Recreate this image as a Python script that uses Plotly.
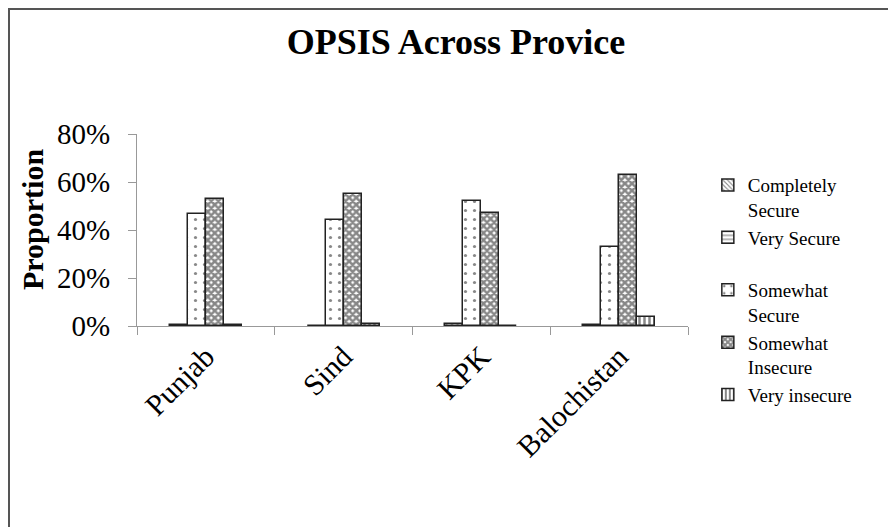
import plotly.graph_objects as go

provinces = ["Punjab", "Sind", "KPK", "Balochistan"]
completely_secure = [0.3, 0.0, 0.8, 0.3]
very_secure = [None, None, None, None]
somewhat_secure = [46.5, 44.2, 52.0, 32.9]
somewhat_insecure = [52.9, 55.0, 47.0, 63.0]
very_insecure = [0.3, 0.8, 0.0, 3.8]
y_tick_values = [0, 20, 40, 60, 80]
y_tick_labels = ["0%", "20%", "40%", "60%", "80%"]

FONT = "Liberation Serif"
W = 0.131

fig = go.Figure()
series = [
    ("Completely<br>Secure", completely_secure, "\\", 4, 0.35, -2 * W),
    ("Very Secure<br> ", very_secure, "-", 5, 0.3, -2 * W),
    ("Somewhat<br>Secure", somewhat_secure, ".", 9, 0.1, -W),
    ("Somewhat<br>Insecure", somewhat_insecure, "x", 5, 0.75, 0.0),
    ("Very insecure", very_insecure, "|", 5, 0.5, W),
]
for name, vals, shape, size, sol, off in series:
    fig.add_trace(go.Bar(
        x=provinces, y=vals, name=name,
        width=W, offset=off,
        marker=dict(color="white",
                    line=dict(color="#222222", width=1.5),
                    pattern=dict(shape=shape, fgcolor="#111111", bgcolor="white",
                                 size=size, solidity=sol, fillmode="overlay")),
    ))

L, T, PW, PH = 129, 126, 551, 192
fig.update_layout(
    width=896, height=527,
    paper_bgcolor="white", plot_bgcolor="white",
    margin=dict(l=L, r=896 - L - PW, t=T, b=527 - T - PH, autoexpand=False),
    font=dict(family=FONT, color="black"),
    title=dict(text="<b>OPSIS Across Provice</b>", x=0.5, xanchor="center",
               y=0.937, yanchor="middle", font=dict(size=36, family=FONT)),
    showlegend=True,
    legend=dict(x=1.036, xanchor="left", yref="container", y=0.70, yanchor="top",
                font=dict(size=19, family=FONT), valign="top", maxheight=0.95,
                traceorder="normal", bgcolor="rgba(0,0,0,0)"),
    bargap=0.0,
    shapes=[dict(type="rect", xref="paper", yref="paper",
                 x0=(1 - L) / PW, x1=2.0, y0=-2.0, y1=(T + PH - 1) / PH,
                 line=dict(color="#555555", width=2), fillcolor="rgba(0,0,0,0)")],
    annotations=[dict(text="<b>Proportion</b>", textangle=-90, xref="paper", yref="paper",
                      x=(24 - L) / PW, y=(T + PH - 212) / PH, xanchor="center", yanchor="middle",
                      showarrow=False, font=dict(size=30, family=FONT, color="black"))],
)
fig.update_yaxes(range=[0, 80], tickvals=y_tick_values, ticktext=y_tick_labels,
                 showgrid=False, showline=True, linecolor="#999999", linewidth=1,
                 ticks="outside", ticklen=8, tickcolor="#999999", automargin=False,
                 ticklabelstandoff=12,
                 tickfont=dict(size=29, family=FONT),
                 zeroline=False)
fig.update_xaxes(showgrid=False, showline=True, linecolor="#999999", linewidth=1,
                 ticks="outside", ticklen=8, tickcolor="#999999", tickson="boundaries",
                 automargin=False,
                 tickangle=-45, tickfont=dict(size=30, family=FONT))

fig.write_html("out.html")
